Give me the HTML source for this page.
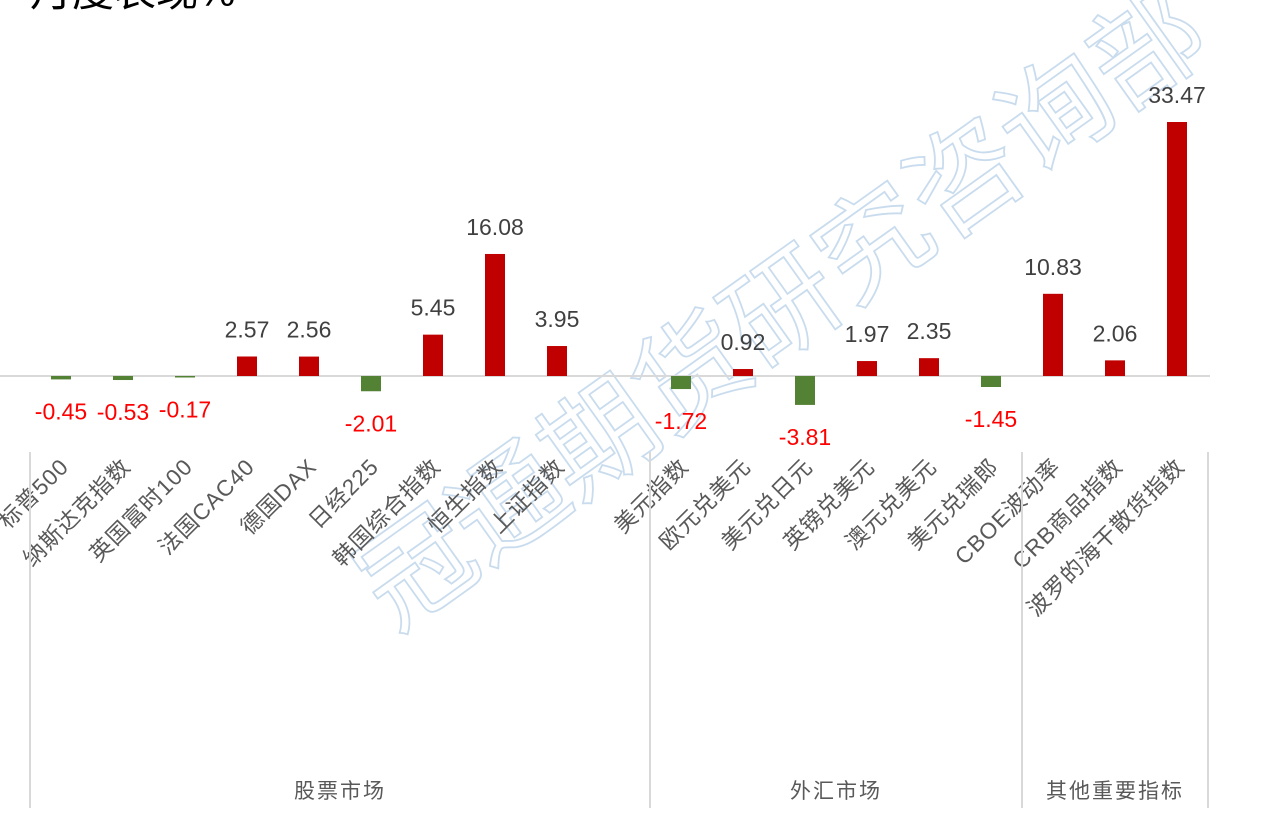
<!DOCTYPE html>
<html><head><meta charset="utf-8"><style>
body{margin:0;background:#fff;}
svg{display:block;font-family:"Liberation Sans","Noto Sans CJK SC",sans-serif;}
</style></head><body>
<svg id="c" width="1269" height="833">
<text x="30" y="6" font-size="42" fill="#000">月度表现%</text>
<text x="805" y="340" font-size="112" fill="none" stroke="#c9dcee" stroke-width="1.8" text-anchor="middle" transform="rotate(-35.5 805 340)">冠通期货研究咨询部</text>
<line x1="0" y1="376" x2="1210" y2="376" stroke="#d9d9d9" stroke-width="2"/>
<g id="bars"></g>
</svg>
<script>
const categories=["标普500","纳斯达克指数","英国富时100","法国CAC40","德国DAX","日经225","韩国综合指数","恒生指数","上证指数","","美元指数","欧元兑美元","美元兑日元","英镑兑美元","澳元兑美元","美元兑瑞郎","CBOE波动率","CRB商品指数","波罗的海干散货指数"];
const values=[-0.45,-0.53,-0.17,2.57,2.56,-2.01,5.45,16.08,3.95,null,-1.72,0.92,-3.81,1.97,2.35,-1.45,10.83,2.06,33.47];
const valueLabels=["-0.45","-0.53","-0.17","2.57","2.56","-2.01","5.45","16.08","3.95","","-1.72","0.92","-3.81","1.97","2.35","-1.45","10.83","2.06","33.47"];
const groups=["股票市场","外汇市场","其他重要指标"];
const groupSizes=[10,6,3];
const NS="http://www.w3.org/2000/svg";
const g=document.getElementById('bars');
const x0=30,step=62,base=376,k=254/33.47;
const xs=i=>x0+step*(i+0.5);
const ys=v=>base-v*k;
function mk(t,a){const e=document.createElementNS(NS,t);for(const p in a)e.setAttribute(p,a[p]);g.appendChild(e);return e;}
categories.forEach((c,i)=>{
  const v=values[i];const cx=xs(i);
  if(v!==null){
    const y1=Math.min(ys(v),base),h=Math.max(Math.abs(ys(v)-base),1.5);
    const r=mk('rect',{x:cx-10,y:y1,width:20,height:h,fill:v>=0?'#c00000':'#548235'});
    
    
    const t=mk('text',{x:cx,y:v>=0?y1-19:y1+h+40,'font-size':23,'text-anchor':'middle',fill:v>=0?'#404040':'#ff0000'});
    t.textContent=valueLabels[i];
    
    
  }
  if(c){
    const lx=cx+9,ly=468;
    const t=mk('text',{x:lx,y:ly,'font-size':22.5,'text-anchor':'end',fill:'#595959','letter-spacing':1,transform:`rotate(-45 ${lx} ${ly})`});
    t.textContent=c;
    
    
  }
});
let start=0;
const dl=mk('line',{x1:x0,y1:452,x2:x0,y2:808,stroke:'#d9d9d9','stroke-width':2});


groups.forEach((gname,j)=>{
  const end=start+groupSizes[j];
  const xe=x0+step*end;
  const l=mk('line',{x1:xe,y1:452,x2:xe,y2:808,stroke:'#d9d9d9','stroke-width':2});
  
  
  const t=mk('text',{x:(x0+step*start+xe)/2,y:798,'font-size':21,'text-anchor':'middle',fill:'#595959','letter-spacing':2});
  t.textContent=gname;
  
  
  start=end;
});
</script>
</body></html>
